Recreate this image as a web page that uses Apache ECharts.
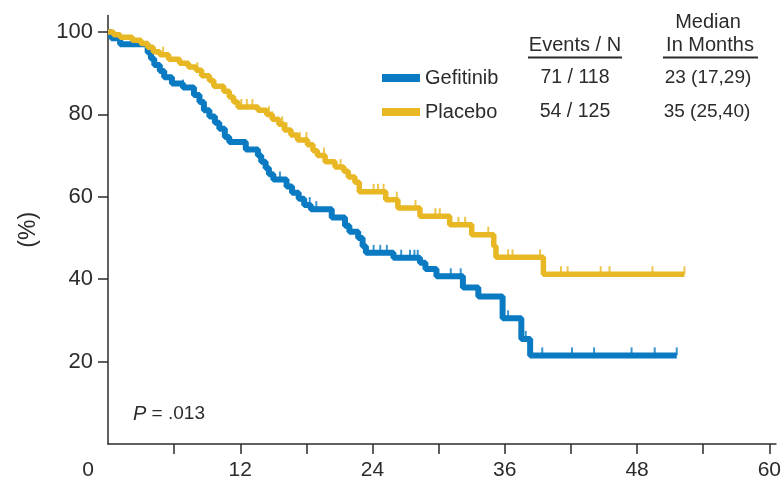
<!DOCTYPE html>
<html>
<head>
<meta charset="utf-8">
<script src="https://cdn.jsdelivr.net/npm/echarts@6/dist/echarts.min.js"></script>
<style>
html,body{margin:0;padding:0;background:#fff;}
#c{width:784px;height:485px;}
</style>
</head>
<body>
<div id="c"></div>
<script>
// ---- Data (months, % event-free) ----
const gefTimes = [0, 0.3, 1.1, 3.6, 3.9, 4.2, 4.7, 5.1, 5.8, 6.8, 7.8, 8.3, 8.7, 9.2, 9.7, 10.1, 10.6, 11.0, 12.5, 13.6, 13.9, 14.3, 14.6, 15.0, 16.2, 16.7, 17.3, 17.8, 18.4, 20.3, 21.5, 21.9, 22.7, 23.1, 23.4, 25.9, 28.3, 28.8, 29.8, 32.2, 33.6, 35.8, 37.5, 38.3, 51.6];
const gefSurv  = [100, 98.5, 97, 95, 93.5, 92, 90.5, 89, 87.5, 86.5, 84.7, 83, 81, 79.5, 78, 76.5, 74.5, 73.3, 71.5, 70, 68.5, 67, 65.5, 64.2, 62.5, 61, 59.5, 58, 57, 55, 53, 51.5, 50, 48, 46.4, 45.2, 44, 42.5, 40.7, 38, 35.8, 30.5, 25.5, 21.5, 21.5];
const gefCensor = [6.8, 13.6, 15.6, 16.2, 18.3, 18.9, 24.1, 24.7, 25.3, 26.6, 27.4, 27.8, 28.1, 29.8, 31.1, 32.0, 36.3, 37.9, 38.3, 39.4, 42.1, 44.1, 47.5, 49.6, 51.6];

const plaTimes = [0, 0.5, 1.1, 2.2, 3.0, 3.6, 4.1, 4.7, 5.5, 6.5, 7.3, 8.0, 8.5, 9.2, 9.6, 10.5, 11.0, 11.4, 11.8, 13.6, 14.4, 14.9, 15.5, 16.0, 16.6, 17.2, 18.1, 18.6, 19.0, 19.7, 20.6, 21.4, 21.8, 22.4, 22.8, 25.2, 26.3, 28.3, 31.0, 33.0, 35.0, 35.2, 39.5, 52.3];
const plaSurv  = [100, 99.3, 98.7, 98, 97.2, 96.3, 95.2, 94.5, 93.4, 92.4, 91.5, 90.7, 89.4, 88.2, 86.8, 85.6, 84.2, 83, 81.8, 81, 80, 78.8, 77.6, 76.2, 75, 73.8, 72.6, 71.2, 70, 68.5, 67.2, 66.2, 64.8, 63.5, 61.2, 59.3, 57.3, 55.3, 53.2, 50.8, 48, 45.3, 41.2, 41.2];
const plaCensor = [5.0, 8.1, 12.1, 12.6, 13.1, 14.6, 14.9, 15.8, 16.2, 17.4, 18.0, 19.6, 21.1, 24.1, 24.5, 25.0, 26.2, 27.9, 29.7, 30.1, 31.8, 32.4, 33.1, 34.5, 36.3, 36.7, 39.2, 41.1, 41.7, 44.7, 45.5, 49.4, 52.3];

const yTicks = [20, 40, 60, 80, 100];
const xLabels = [0, 12, 24, 36, 48, 60];
const xTicks = [6, 12, 18, 24, 30, 36, 42, 48, 54, 60];

const seriesNames = ['Gefitinib', 'Placebo'];
const eventsN = ['71 / 118', '54 / 125'];
const medians = ['23 (17,29)', '35 (25,40)'];

// ---- helpers ----
function pairs(ts, vs){ return ts.map((t,i)=>[t, vs[i]]); }
function lookup(ts, vs, t){
  let v = vs[0];
  for (let i=0;i<ts.length;i++){ if (ts[i] <= t + 1e-9) v = vs[i]; else break; }
  return v;
}
function censorPts(cs, ts, vs){ return cs.map(t=>[t, lookup(ts, vs, t)]); }

const BLUE = '#0a7ac2';
const GOLD = '#e8b824';
const TXT = '#2b2b2b';
const FONT = '"Liberation Sans", Arial, Helvetica, sans-serif';

const chart = echarts.init(document.getElementById('c'));
chart.setOption({
  animation: false,
  backgroundColor: '#fff',
  textStyle: { fontFamily: FONT },
  grid: { left: 108, right: 4.35, top: 15.5, bottom: 41, containLabel: false },
  xAxis: {
    type: 'value', min: 0, max: 60.6,
    axisLine: { lineStyle: { color: TXT, width: 1.5 } },
    axisTick: { customValues: xTicks, length: 10, lineStyle: { color: TXT, width: 1.5 } },
    axisLabel: {
      customValues: xLabels, margin: 16, fontSize: 21, color: TXT, fontFamily: FONT,
      formatter: v => v === 0 ? '{z|0}' : String(v),
      rich: { z: { fontSize: 21, color: TXT, fontFamily: FONT, padding: [0, 40, 0, 0] } }
    },
    splitLine: { show: false }
  },
  yAxis: {
    type: 'value', min: 0, max: 104,
    name: '(%)', nameLocation: 'middle', nameRotate: 90, nameGap: 68,
    nameTextStyle: { fontSize: 23, color: TXT, fontFamily: FONT },
    axisLine: { show: true, lineStyle: { color: TXT, width: 1.5 } },
    axisTick: { show: true, customValues: yTicks, length: 10, lineStyle: { color: TXT, width: 1.5 } },
    axisLabel: { customValues: yTicks, margin: 15, fontSize: 22, color: TXT, fontFamily: FONT },
    splitLine: { show: false }
  },
  legend: {
    data: seriesNames.map(n => ({ name: n, icon: 'rect' })),
    orient: 'vertical', left: 377, top: 63, itemGap: 14,
    itemWidth: 38, itemHeight: 8,
    textStyle: { fontSize: 20, color: TXT, fontFamily: FONT, lineHeight: 20 },
    selectedMode: false
  },
  series: [
    { name: seriesNames[0], type: 'line', step: 'end', data: pairs(gefTimes, gefSurv),
      showSymbol: false, symbol: 'none', color: BLUE, lineStyle: { color: BLUE, width: 6 }, z: 2 },
    { name: seriesNames[1], type: 'line', step: 'end', data: pairs(plaTimes, plaSurv),
      showSymbol: false, symbol: 'none', color: GOLD, lineStyle: { color: GOLD, width: 5.5 }, z: 3 },
    { type: 'scatter', data: censorPts(gefCensor, gefTimes, gefSurv), symbol: 'rect',
      symbolSize: [2, 8], symbolOffset: [0, -4], itemStyle: { color: BLUE }, silent: true, z: 2 },
    { type: 'scatter', data: censorPts(plaCensor, plaTimes, plaSurv), symbol: 'rect',
      symbolSize: [2, 8], symbolOffset: [0, -4], itemStyle: { color: GOLD }, silent: true, z: 3 }
  ],
  graphic: [
    { type: 'text', style: { x: 708, y: 22, text: 'Median', textAlign: 'center', textVerticalAlign: 'middle', fontSize: 20, fill: TXT, fontFamily: FONT } },
    { type: 'text', style: { x: 710, y: 45, text: 'In Months', textAlign: 'center', textVerticalAlign: 'middle', fontSize: 20, fill: TXT, fontFamily: FONT } },
    { type: 'text', style: { x: 575, y: 45, text: 'Events / N', textAlign: 'center', textVerticalAlign: 'middle', fontSize: 20, fill: TXT, fontFamily: FONT } },
    { type: 'line', shape: { x1: 528, y1: 57.5, x2: 622, y2: 57.5 }, style: { stroke: TXT, lineWidth: 2 } },
    { type: 'line', shape: { x1: 663, y1: 57.5, x2: 758, y2: 57.5 }, style: { stroke: TXT, lineWidth: 2 } },
    { type: 'text', style: { x: 575, y: 78, text: eventsN[0], textAlign: 'center', textVerticalAlign: 'middle', fontSize: 19.5, fill: TXT, fontFamily: FONT } },
    { type: 'text', style: { x: 575, y: 112, text: eventsN[1], textAlign: 'center', textVerticalAlign: 'middle', fontSize: 19.5, fill: TXT, fontFamily: FONT } },
    { type: 'text', style: { x: 708, y: 78, text: medians[0], textAlign: 'center', textVerticalAlign: 'middle', fontSize: 19, fill: TXT, fontFamily: FONT } },
    { type: 'text', style: { x: 707, y: 112, text: medians[1], textAlign: 'center', textVerticalAlign: 'middle', fontSize: 19, fill: TXT, fontFamily: FONT } },
    { type: 'text', style: { x: 133, y: 414, text: '{i|P} = .013', textVerticalAlign: 'middle', fontSize: 19, fill: TXT, fontFamily: FONT,
        rich: { i: { fontStyle: 'italic', fontSize: 20, fill: TXT, fontFamily: FONT } } } }
  ]
});
</script>
</body>
</html>
